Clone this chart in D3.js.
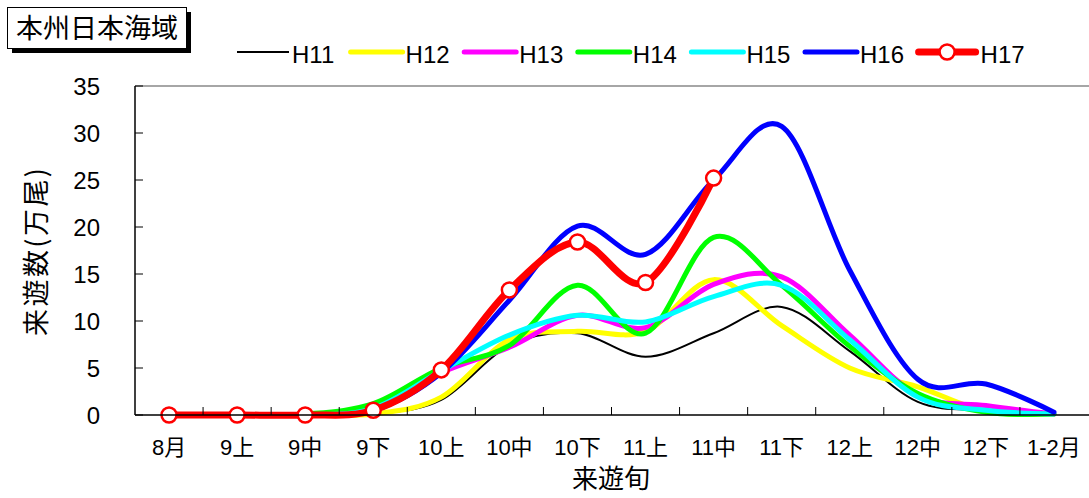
<!DOCTYPE html>
<html>
<head>
<meta charset="utf-8">
<script src="https://cdn.jsdelivr.net/npm/d3@7"></script>
<style>
  html, body { margin: 0; padding: 0; background: #fff; }
  svg { display: block; font-family: "Liberation Sans", Arial, "Noto Sans CJK JP", sans-serif; }
</style>
</head>
<body>
<svg id="chart" width="1089" height="498"></svg>
<script>
// 旬別の来遊数（万尾）
const categories = ["8月", "9上", "9中", "9下", "10上", "10中", "10下", "11上", "11中", "11下", "12上", "12中", "12下", "1-2月"];
const H11 = [0, 0, 0, 0.1, 1.6, 7.4, 8.7, 6.2, 8.7, 11.5, 6.8, 1.4, 0.5, 0.1];
const H12 = [0, 0, 0, 0.1, 1.9, 8.0, 8.9, 8.9, 14.4, 9.5, 5.0, 3.0, 0.4, 0.1];
const H13 = [0, 0, 0, 0.7, 4.5, 7.2, 10.6, 9.3, 13.9, 14.7, 8.5, 2.1, 1.0, 0.1];
const H14 = [0, 0, 0.1, 1.2, 5.0, 7.4, 13.8, 8.7, 18.9, 13.8, 7.3, 2.3, 0.3, 0.1];
const H15 = [0, 0, 0, 0.7, 4.7, 8.5, 10.6, 9.9, 12.6, 13.8, 8.0, 1.9, 0.5, 0.1];
const H16 = [0, 0, 0, 0.5, 4.5, 12.2, 20.1, 17.1, 25.0, 30.7, 15.4, 3.8, 3.3, 0.3];
const H17 = [0, 0, 0, 0.5, 4.8, 13.3, 18.4, 14.1, 25.2];
const yTicks = [0, 5, 10, 15, 20, 25, 30, 35];

const seriesList = [
  { name: "H11", values: H11, color: "#000000", width: 2 },
  { name: "H12", values: H12, color: "#ffff00", width: 5 },
  { name: "H13", values: H13, color: "#ff00ff", width: 5 },
  { name: "H14", values: H14, color: "#00ff00", width: 5 },
  { name: "H15", values: H15, color: "#00ffff", width: 5 },
  { name: "H16", values: H16, color: "#0000ff", width: 5 },
  { name: "H17", values: H17, color: "#ff0000", width: 7, marker: true }
];

const svg = d3.select("#chart");
const plot = { left: 135, right: 1088, top: 86, bottom: 415 };

const x = d3.scalePoint().domain(categories).range([plot.left, plot.right]).padding(0.5);
const y = d3.scaleLinear().domain([0, 35]).range([plot.bottom, plot.top]);
const step = x.step();

// Plot frame: grey top border
svg.append("line").attr("x1", plot.left).attr("x2", plot.right + 1)
  .attr("y1", plot.top).attr("y2", plot.top)
  .attr("stroke", "#888").attr("stroke-width", 1.5);

// Series lines
const line = d3.line()
  .defined(d => d != null)
  .x((d, i) => x(categories[i]))
  .y(d => y(d))
  .curve(d3.curveCatmullRom.alpha(0));

const gLines = svg.append("g");
seriesList.forEach(s => {
  gLines.append("path")
    .datum(s.values)
    .attr("fill", "none")
    .attr("stroke", s.color)
    .attr("stroke-width", s.width)
    .attr("stroke-linejoin", "round")
    .attr("stroke-linecap", "round")
    .attr("d", line);
  if (s.marker) {
    gLines.selectAll(null)
      .data(s.values)
      .enter().append("circle")
      .attr("cx", (d, i) => x(categories[i]))
      .attr("cy", d => y(d))
      .attr("r", 7.5)
      .attr("fill", "#fff")
      .attr("stroke", s.color)
      .attr("stroke-width", 2.5);
  }
});

// Y axis
const yAxis = svg.append("g").attr("transform", `translate(${plot.left},0)`);
yAxis.append("line").attr("x1", 0).attr("x2", 0).attr("y1", plot.top).attr("y2", plot.bottom)
  .attr("stroke", "#000").attr("stroke-width", 1.5);
yAxis.selectAll("line.tick").data(yTicks).enter().append("line")
  .attr("class", "tick")
  .attr("x1", 0).attr("x2", 8)
  .attr("y1", d => y(d)).attr("y2", d => y(d))
  .attr("stroke", "#000").attr("stroke-width", 1);
yAxis.selectAll("text").data(yTicks).enter().append("text")
  .attr("x", -35).attr("y", d => y(d)).attr("dy", "0.36em")
  .attr("text-anchor", "end")
  .attr("font-size", 24)
  .text(d => d);

// X axis
const xAxis = svg.append("g").attr("transform", `translate(0,${plot.bottom})`);
xAxis.append("line").attr("x1", plot.left).attr("x2", 1089).attr("y1", 0).attr("y2", 0)
  .attr("stroke", "#000").attr("stroke-width", 1.5);
xAxis.selectAll("line.tick").data(categories.slice(1)).enter().append("line")
  .attr("class", "tick")
  .attr("x1", d => x(d) - step / 2).attr("x2", d => x(d) - step / 2)
  .attr("y1", 0).attr("y2", -8)
  .attr("stroke", "#000").attr("stroke-width", 1);
xAxis.selectAll("text").data(categories).enter().append("text")
  .attr("x", d => x(d)).attr("y", 40)
  .attr("text-anchor", "middle")
  .attr("font-size", 22)
  .text(d => d);

// Axis titles
svg.append("text")
  .attr("x", 611).attr("y", 488)
  .attr("text-anchor", "middle")
  .attr("font-size", 26)
  .attr("font-family", "'Noto Sans CJK JP', sans-serif")
  .text("来遊旬");

svg.append("text")
  .attr("transform", "translate(46,252) rotate(-90)")
  .attr("text-anchor", "middle")
  .attr("font-size", 27)
  .attr("font-family", "'Noto Sans CJK JP', sans-serif")
  .attr("textLength", 168)
  .attr("lengthAdjust", "spacing")
  .text("来遊数(万尾)");

// Title box with drop shadow
const title = svg.append("g");
title.append("rect").attr("x", 12).attr("y", 12).attr("width", 179).attr("height", 41).attr("fill", "#000");
title.append("rect").attr("x", 7.5).attr("y", 7.5).attr("width", 179).attr("height", 41)
  .attr("fill", "#fff").attr("stroke", "#000").attr("stroke-width", 1);
title.append("text")
  .attr("x", 97).attr("y", 38)
  .attr("text-anchor", "middle")
  .attr("font-size", 27)
  .attr("font-family", "'Noto Sans CJK JP', sans-serif")
  .text("本州日本海域");

// Legend
const legend = svg.append("g");
seriesList.forEach((s, i) => {
  const x0 = 237 + i * 113.6;
  const g = legend.append("g").attr("transform", `translate(${x0},52)`);
  g.append("line").attr("x1", 0).attr("x2", s.marker ? 57 : 52).attr("y1", 0).attr("y2", 0)
    .attr("stroke", s.color).attr("stroke-width", s.width)
    .attr("stroke-linecap", s.width > 2 ? "round" : "butt");
  if (s.marker) {
    g.append("circle").attr("cx", 28.5).attr("cy", 0).attr("r", 7.5)
      .attr("fill", "#fff").attr("stroke", s.color).attr("stroke-width", 2.5);
  }
  g.append("text")
    .attr("x", s.marker ? 62 : 55).attr("y", 11)
    .attr("font-size", 24)
    .text(s.name);
});
</script>
</body>
</html>
